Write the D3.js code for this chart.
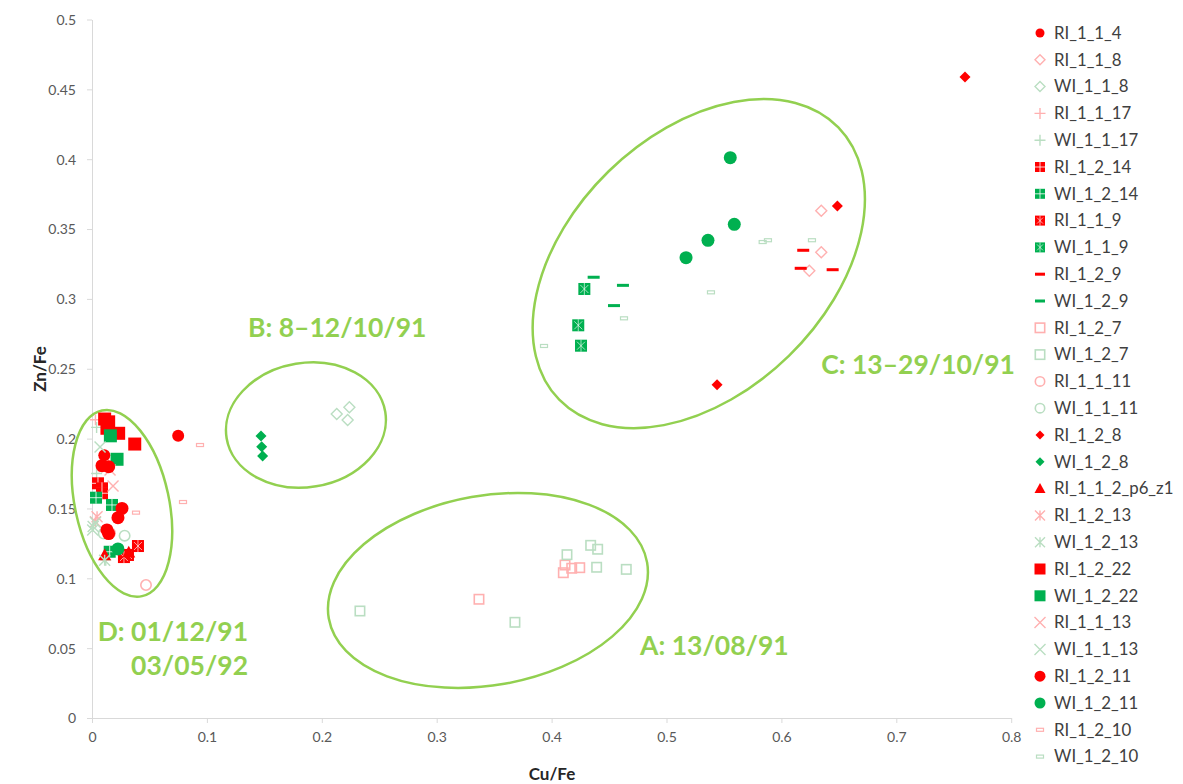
<!DOCTYPE html>
<html><head><meta charset="utf-8">
<script src="https://cdn.jsdelivr.net/npm/d3@7"></script>
<style>
body{margin:0;background:#fff}
svg{display:block}
text{font-family:Lato,"Open Sans",sans-serif}
</style>
</head><body>
<svg id="chart" width="1183" height="784"></svg>
<script>
// ---------- data ----------
const xTicks = [0, 0.1, 0.2, 0.3, 0.4, 0.5, 0.6, 0.7, 0.8];
const yTicks = [0, 0.05, 0.1, 0.15, 0.2, 0.25, 0.3, 0.35, 0.4, 0.45, 0.5];
const xTickLabels = ["0", "0.1", "0.2", "0.3", "0.4", "0.5", "0.6", "0.7", "0.8"];
const yTickLabels = ["0", "0.05", "0.1", "0.15", "0.2", "0.25", "0.3", "0.35", "0.4", "0.45", "0.5"];

const RI_1_1_4 = [[0.075, 0.202], [0.0107, 0.188]];
const RI_1_1_8 = [[0.6347, 0.3631], [0.6347, 0.3334], [0.6243, 0.3202]];
const WI_1_1_8 = [[0.213, 0.2176], [0.224, 0.2224], [0.2225, 0.2133]];
const RI_1_1_17 = [[0.003, 0.2135], [0.012, 0.1335]];
const WI_1_1_17 = [[0.004, 0.208], [0.012, 0.113], [0.004, 0.175]];
const RI_1_2_14 = [[0.0052, 0.168], [0.0087, 0.1644], [0.0087, 0.1609]];
const WI_1_2_14 = [[0.0035, 0.1577], [0.0174, 0.1525], [0.0154, 0.119]];
const RI_1_1_9 = [[0.040, 0.1231], [0.0313, 0.1167], [0.0278, 0.1152]];
const WI_1_1_9 = [[0.4285, 0.3071], [0.4232, 0.2811], [0.4256, 0.2665]];
const RI_1_2_9 = [[0.619, 0.3348], [0.6168, 0.3219], [0.6446, 0.3209]];
const WI_1_2_9 = [[0.4366, 0.3155], [0.4621, 0.3097], [0.4543, 0.2952]];
const RI_1_2_7 = [[0.3368, 0.085], [0.4102, 0.104], [0.4117, 0.1095], [0.4175, 0.1072], [0.4245, 0.1076]];
const WI_1_2_7 = [[0.2332, 0.0766], [0.3681, 0.0685], [0.4134, 0.1169], [0.434, 0.1236], [0.4401, 0.1208], [0.4392, 0.1079], [0.465, 0.1064]];
const RI_1_1_11 = [[0.047, 0.0952], [0.0157, 0.1324]];
const WI_1_1_11 = [[0.0102, 0.132], [0.0284, 0.1305]];
const RI_1_2_8 = [[0.6487, 0.3665], [0.544, 0.2386], [0.7598, 0.4588]];
const WI_1_2_8 = [[0.1471, 0.2019], [0.1477, 0.1942], [0.1485, 0.1875]];
const RI_1_1_2_p6_z1 = [[0.011, 0.1167], [0.032, 0.1186]];
const RI_1_2_13 = [[0.0044, 0.144], [0.003, 0.1405]];
const WI_1_2_13 = [[0.011, 0.113], [0.001, 0.137]];
const RI_1_2_22 = [[0.011, 0.214], [0.0145, 0.212], [0.013, 0.2074], [0.0232, 0.2038], [0.0372, 0.1961]];
const WI_1_2_22 = [[0.016, 0.202], [0.0218, 0.1852]];
const RI_1_1_13 = [[0.0183, 0.166], [0.0104, 0.180], [0.0157, 0.1775]];
const WI_1_1_13 = [[0.007, 0.194], [0.0006, 0.1346], [0.003, 0.14]];
const RI_1_2_11 = [[0.0087, 0.1806], [0.0145, 0.1799], [0.0261, 0.150], [0.0226, 0.1434], [0.013, 0.1346], [0.0145, 0.132]];
const WI_1_2_11 = [[0.5555, 0.4011], [0.559, 0.3534], [0.5361, 0.3419], [0.517, 0.3295], [0.0226, 0.121]];
const RI_1_2_10 = [[0.0383, 0.147], [0.0792, 0.1546], [0.094, 0.1954]];
const WI_1_2_10 = [[0.3934, 0.2663], [0.463, 0.2861], [0.5387, 0.3047], [0.5837, 0.3407], [0.5883, 0.342], [0.6266, 0.342]];

const seriesNames = ["RI_1_1_4","RI_1_1_8","WI_1_1_8","RI_1_1_17","WI_1_1_17","RI_1_2_14","WI_1_2_14",
  "RI_1_1_9","WI_1_1_9","RI_1_2_9","WI_1_2_9","RI_1_2_7","WI_1_2_7","RI_1_1_11","WI_1_1_11",
  "RI_1_2_8","WI_1_2_8","RI_1_1_2_p6_z1","RI_1_2_13","WI_1_2_13","RI_1_2_22","WI_1_2_22",
  "RI_1_1_13","WI_1_1_13","RI_1_2_11","WI_1_2_11","RI_1_2_10","WI_1_2_10"];
const seriesValues = [RI_1_1_4,RI_1_1_8,WI_1_1_8,RI_1_1_17,WI_1_1_17,RI_1_2_14,WI_1_2_14,
  RI_1_1_9,WI_1_1_9,RI_1_2_9,WI_1_2_9,RI_1_2_7,WI_1_2_7,RI_1_1_11,WI_1_1_11,
  RI_1_2_8,WI_1_2_8,RI_1_1_2_p6_z1,RI_1_2_13,WI_1_2_13,RI_1_2_22,WI_1_2_22,
  RI_1_1_13,WI_1_1_13,RI_1_2_11,WI_1_2_11,RI_1_2_10,WI_1_2_10];

// annotation groups (data coordinates)
const groupLabels = ["B: 8\u201312/10/91", "C: 13\u201329/10/91", "A: 13/08/91", "D: 01/12/91", "03/05/92"];
const groupLabelPos = [[0.1358, 0.273], [0.6346, 0.2464], [0.4770, 0.0449], [0.1358, 0.0551], [0.1358, 0.0308]];
const ellipseCenters = [[0.0261, 0.1537], [0.1862, 0.2097], [0.3446, 0.0913], [0.5281, 0.3253]];

// ---------- styles ----------
const RED = "#FF0000", GREEN = "#00B050", PINK = "#FFB0B0", LGREEN = "#BADEC2", LIME = "#92D050";
const markerStyle = [
  ["circle", RED, 12, 9], ["odiamond", PINK, 11, 10], ["odiamond", LGREEN, 11, 10],
  ["plus", PINK, 11, 11], ["plus", LGREEN, 11, 11],
  ["sqplus", RED, 12, 10], ["sqplus", GREEN, 12, 10],
  ["sqx", RED, 12, 10], ["sqx", GREEN, 12, 10],
  ["dash", RED, 12, 10], ["dash", GREEN, 12, 10],
  ["osquare", PINK, 11, 11], ["osquare", LGREEN, 11, 11],
  ["ocircle", PINK, 12, 11], ["ocircle", LGREEN, 12, 11],
  ["diamond", RED, 11, 9], ["diamond", GREEN, 11, 9],
  ["triangle", RED, 13, 11],
  ["star", PINK, 11, 10], ["star", LGREEN, 11, 10],
  ["square", RED, 13, 11], ["square", GREEN, 13, 11],
  ["x", PINK, 11, 11], ["x", LGREEN, 11, 11],
  ["circle", RED, 13, 11], ["circle", GREEN, 13, 11],
  ["orect", PINK, 7, 7], ["orect", LGREEN, 7, 7]
];
const ellipseShape = [[47, 95, -12.2], [80.4, 62.1, -9.4], [161.6, 94.8, -10], [195, 129, -44.3]];

// ---------- chart ----------
const svg = d3.select("#chart");
const x = d3.scaleLinear().domain([0, 0.8]).range([92, 1011.2]);
const y = d3.scaleLinear().domain([0, 0.5]).range([718, 19.5]);
const AXIS = "#D9D9D9", TXT = "#595959";

// axes
const xAxis = svg.append("g").attr("transform", "translate(0,718)")
  .call(d3.axisBottom(x).tickValues(xTicks).tickFormat((d, i) => xTickLabels[i]).tickSize(5).tickSizeOuter(0));
const yAxis = svg.append("g").attr("transform", "translate(92,0)")
  .call(d3.axisLeft(y).tickValues(yTicks).tickFormat((d, i) => yTickLabels[i]).tickSize(5).tickSizeOuter(0));
[xAxis, yAxis].forEach(a => {
  a.select(".domain").attr("stroke", AXIS).attr("stroke-width", 1);
  a.selectAll(".tick line").attr("stroke", AXIS);
  a.selectAll(".tick text").attr("fill", TXT).style("font-size", "14px").style("font-family", "Lato, sans-serif");
});
xAxis.selectAll(".tick text").attr("dy", null).attr("y", 24);
yAxis.selectAll(".tick text").attr("x", -16).attr("dy", "0.35em");

svg.append("text").attr("x", 552).attr("y", 780).attr("text-anchor", "middle")
  .attr("font-weight", "bold").attr("font-size", 17).attr("fill", "#262626").text("Cu/Fe");
svg.append("text").attr("transform", "translate(46,369) rotate(-90)").attr("text-anchor", "middle")
  .attr("font-weight", "bold").attr("font-size", 17).attr("fill", "#262626").text("Zn/Fe");

// ellipses
ellipseCenters.forEach((c, i) => {
  const [rx, ry, rot] = ellipseShape[i];
  svg.append("ellipse")
    .attr("transform", `translate(${x(c[0])},${y(c[1])}) rotate(${rot})`)
    .attr("rx", rx).attr("ry", ry)
    .attr("fill", "none").attr("stroke", LIME).attr("stroke-width", 2.5);
});

// marker drawing
function drawMarker(g, type, color, s) {
  const h = s / 2;
  switch (type) {
    case "circle":
      g.append("circle").attr("r", h).attr("fill", color); break;
    case "ocircle":
      g.append("circle").attr("r", h - 0.8).attr("fill", "none").attr("stroke", color).attr("stroke-width", 1.6); break;
    case "diamond":
      g.append("path").attr("d", `M0,${-h}L${h},0L0,${h}L${-h},0Z`).attr("fill", color); break;
    case "odiamond":
      g.append("path").attr("d", `M0,${-h}L${h},0L0,${h}L${-h},0Z`).attr("fill", "none").attr("stroke", color).attr("stroke-width", 1.4); break;
    case "plus":
      g.append("path").attr("d", `M${-h},0H${h}M0,${-h}V${h}`).attr("stroke", color).attr("stroke-width", 1.4); break;
    case "x":
      g.append("path").attr("d", `M${-h},${-h}L${h},${h}M${-h},${h}L${h},${-h}`).attr("stroke", color).attr("stroke-width", 1.4); break;
    case "star":
      g.append("path").attr("d", `M${-h},${-h}L${h},${h}M${-h},${h}L${h},${-h}M0,${-h}V${h}`).attr("stroke", color).attr("stroke-width", 1.4); break;
    case "square":
      g.append("rect").attr("x", -h).attr("y", -h).attr("width", s).attr("height", s).attr("fill", color); break;
    case "osquare":
      g.append("rect").attr("x", -h + 0.8).attr("y", -h + 0.8).attr("width", s - 1.6).attr("height", s - 1.6)
        .attr("fill", "none").attr("stroke", color).attr("stroke-width", 1.6); break;
    case "sqplus":
      g.append("rect").attr("x", -h).attr("y", -h).attr("width", s).attr("height", s).attr("fill", color);
      g.append("path").attr("d", `M${-h},0H${h}M0,${-h}V${h}`).attr("stroke", "#fff").attr("stroke-opacity", 0.8).attr("stroke-width", 1); break;
    case "sqx":
      g.append("rect").attr("x", -h).attr("y", -h).attr("width", s).attr("height", s).attr("fill", color);
      g.append("path").attr("d", `M${-h + 2},${-h + 2}L${h - 2},${h - 2}M${-h + 2},${h - 2}L${h - 2},${-h + 2}M0,${-h}V${h}`)
        .attr("stroke", "#fff").attr("stroke-opacity", 0.7).attr("stroke-width", 0.9); break;
    case "dash":
      g.append("rect").attr("x", -h).attr("y", -1.5).attr("width", s).attr("height", 3).attr("fill", color); break;
    case "triangle":
      g.append("path").attr("d", `M0,${-h}L${h},${h * 0.8}L${-h},${h * 0.8}Z`).attr("fill", color); break;
    case "orect":
      g.append("rect").attr("x", -h).attr("y", -1.5).attr("width", s).attr("height", 3)
        .attr("fill", "none").attr("stroke", color).attr("stroke-width", 1.2); break;
  }
}

// points
const plot = svg.append("g");
seriesValues.forEach((pts, i) => {
  const [type, color, size] = markerStyle[i];
  const sg = plot.append("g").attr("class", "series-" + seriesNames[i]);
  sg.selectAll("g").data(pts).join("g")
    .attr("transform", d => `translate(${x(d[0])},${y(d[1])})`)
    .each(function () { drawMarker(d3.select(this), type, color, size); });
});

// group labels
groupLabels.forEach((t, i) => {
  const p = groupLabelPos[i];
  svg.append("text").attr("x", x(p[0])).attr("y", y(p[1]))
    .attr("text-anchor", i >= 3 ? "end" : "start")
    .attr("font-weight", "bold").attr("font-size", 26.5).attr("fill", LIME).text(t);
});

// legend
const legend = svg.append("g");
const legY0 = 33, legStep = 26.8;
seriesNames.forEach((name, i) => {
  const [type, color, , lsize] = markerStyle[i];
  const row = legend.append("g").attr("transform", `translate(1040,${legY0 + i * legStep})`);
  drawMarker(row, type, color, lsize);
  row.append("text").attr("x", 14).attr("dy", "0.35em").attr("font-size", 16.8).attr("fill", "#404040").text(name);
});
</script>
</body></html>
